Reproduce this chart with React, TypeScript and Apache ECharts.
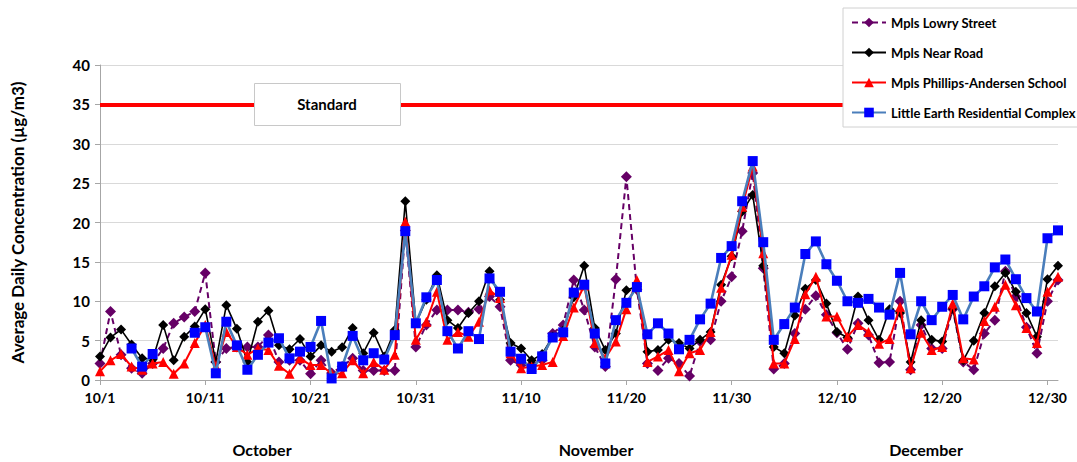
import React, { useEffect, useRef } from "react";
import * as echarts from "echarts";

// Day labels for Oct 1 – Dec 31
const MONTHS: [number, number][] = [
  [10, 31],
  [11, 30],
  [12, 31],
];
const dates: string[] = [];
MONTHS.forEach(([m, n]) => {
  for (let d = 1; d <= n; d++) dates.push(`${m}/${d}`);
});

const STANDARD = 35;

const lowry: (number | null)[] = [
  2.1, 8.7, 3.2, 1.5, 0.85, 2.1, 4.0, 7.2, 8.0, 8.7,
  13.6, 2.3, 4.0, 4.2, 4.2, 4.2, 5.7, 2.3, 2.5, 2.5,
  0.8, 2.5, 0.9, 1.7, 2.75, 1.2, 1.2, 1.2, 1.2, 19.0,
  4.2, 7.0, 8.9, 8.9, 8.9, 8.6, 9.0, 10.6, 9.3, 2.5,
  1.9, 2.0, 2.5, 5.9, 7.0, 12.7, 8.9, 4.2, 1.7, 12.8,
  25.8, 11.5, 2.1, 1.2, 2.75, 2.1, 0.5, 4.9, 5.1, 10.0,
  13.1, 18.9, 26.3, 14.2, 1.4, 2.1, 5.9, 9.0, 10.7, 8.3,
  6.0, 3.9, 7.2, 5.7, 2.2, 2.3, 10.0, 1.3, 7.0, 4.0,
  4.0, 9.0, 2.3, 1.3, 5.9, 7.6, 13.8, 10.6, 6.7, 3.4,
  10.0, 12.7,
];

const nearRoad: (number | null)[] = [
  3.0, 5.4, 6.4, 4.5, 2.75, 2.6, 7.0, 2.5, 5.5, 6.8,
  9.0, 2.3, 9.5, 6.5, 2.3, 7.4, 8.8, 4.4, 3.9, 5.2,
  3.0, 4.4, 3.6, 4.15, 6.6, 3.4, 6.0, 3.0, 6.35, 22.7,
  7.2, 10.2, 13.3, 7.6, 6.6, 8.5, 10.0, 13.8, 10.2, 4.7,
  4.0, 2.5, 3.3, 5.5, 6.3, 10.5, 14.5, 6.6, 3.8, 5.9,
  11.4, 11.9, 3.6, 3.8, 5.1, 4.7, 4.0, 5.1, 6.1, 12.1,
  15.7, 21.4, 23.5, 14.5, 4.2, 3.4, 8.2, 11.6, 12.7, 9.7,
  6.1, 5.4, 10.6, 7.6, 5.1, 9.0, 8.5, 2.3, 7.6, 5.1,
  4.9, 9.1, 2.5, 5.0, 8.5, 11.9, 13.6, 11.2, 8.5, 5.5,
  12.8, 14.5,
];

const phillips: (number | null)[] = [
  1.1, 2.5, 3.3, 1.7, 1.3, 2.1, 2.3, 0.8, 2.1, 4.7,
  7.0, 1.7, 6.1, 4.2, 3.2, 4.0, 3.8, 1.8, 0.8, 2.75,
  1.9, 1.9, 0.8, 0.85, 2.5, 0.85, 2.3, 1.3, 3.2, 20.1,
  5.1, 7.4, 11.2, 5.1, 6.1, 5.5, 7.4, 11.4, 10.4, 3.4,
  1.5, 1.7, 1.9, 2.3, 5.6, 9.2, 12.0, 4.7, 2.75, 4.9,
  9.0, 12.7, 2.3, 3.0, 3.8, 1.1, 3.4, 3.8, 6.1, 11.7,
  15.9, 22.0, 27.1, 16.1, 2.1, 2.1, 5.2, 10.9, 13.1, 8.05,
  8.05, 5.5, 7.0, 6.1, 4.6, 5.2, 9.3, 1.5, 6.0, 3.8,
  4.2, 9.7, 2.75, 2.6, 7.5, 9.3, 12.1, 9.5, 6.6, 4.7,
  11.2, 13.1,
];

const littleEarth: (number | null)[] = [
  null, null, null, 4.0, 1.7, 3.3, null, null, null, 6.0,
  6.7, 0.85, 7.4, 4.4, 1.3, 3.2, 4.75, 5.3, 2.75, 3.6,
  4.2, 7.5, 0.2, 1.7, 5.6, 2.5, 3.4, 2.6, 5.7, 18.9,
  7.2, 10.5, 12.7, 6.2, 4.0, 6.2, 5.2, 12.9, 11.2, 3.6,
  2.7, 1.4, 3.0, 5.4, 6.05, 11.1, 12.1, 5.9, 2.1, 7.6,
  9.8, 11.8, 5.8, 7.2, 5.9, 3.9, 5.1, 7.7, 9.7, 15.5,
  17.0, 22.7, 27.8, 17.5, 5.1, 7.1, 9.2, 16.0, 17.6, 14.7,
  12.6, 10.0, 9.8, 10.3, 9.2, 8.3, 13.6, 5.8, 10.0, 7.6,
  9.3, 10.8, 7.7, 10.6, 11.9, 14.3, 15.3, 12.8, 10.4, 8.7,
  18.0, 19.0,
];

const MONTH_LABELS = [
  { text: "October", x: 262 },
  { text: "November", x: 596 },
  { text: "December", x: 926 },
];

const FONT = "Lato, 'Open Sans', sans-serif";

export default function App() {
  const ref = useRef<HTMLDivElement>(null);

  useEffect(() => {
    if (!ref.current) return;
    const chart = echarts.init(ref.current, null, { renderer: "svg" });

    chart.setOption({
      animation: false,
      backgroundColor: "#fff",
      textStyle: { fontFamily: FONT },
      grid: { left: 100, right: 19, top: 65, bottom: 82, containLabel: false },
      legend: {
        orient: "vertical",
        left: 843,
        top: 8,
        itemGap: 17,
        itemWidth: 34,
        itemHeight: 12,
        padding: [8, 6, 8, 8],
        backgroundColor: "#fff",
        borderColor: "#d0d0d0",
        borderWidth: 1,
        textStyle: { fontFamily: FONT, fontWeight: "bold", fontSize: 13, color: "#000" },
        data: [
          "Mpls Lowry Street",
          "Mpls Near Road",
          "Mpls Phillips-Andersen School",
          "Little Earth Residential Complex",
        ],
        z: 20,
      },
      xAxis: {
        type: "category",
        data: dates,
        boundaryGap: false,
        axisLine: { lineStyle: { color: "#a6a6a6", width: 1 } },
        axisTick: { interval: 9, length: 5, lineStyle: { color: "#a6a6a6" } },
        axisLabel: {
          interval: 9,
          color: "#000",
          fontWeight: "bold",
          fontSize: 14,
          fontFamily: FONT,
          margin: 10,
        },
        splitLine: { show: false },
      },
      yAxis: {
        type: "value",
        min: 0,
        max: 40,
        interval: 5,
        name: "Average Daily Concentration (µg/m3)",
        nameLocation: "middle",
        nameGap: 74,
        nameTextStyle: { color: "#000", fontWeight: "bold", fontSize: 17, fontFamily: FONT },
        axisLine: { show: true, lineStyle: { color: "#a6a6a6" } },
        axisTick: { show: true, length: 5, lineStyle: { color: "#a6a6a6" } },
        axisLabel: { color: "#000", fontWeight: "bold", fontSize: 15, fontFamily: FONT, margin: 10 },
        splitLine: { lineStyle: { color: "#d9d9d9", width: 1 } },
      },
      series: [
        {
          name: "Mpls Lowry Street",
          type: "line",
          data: lowry,
          symbol: "diamond",
          symbolSize: 11,
          showAllSymbol: true,
          itemStyle: { color: "#660066" },
          lineStyle: { color: "#660066", width: 2, type: [6, 4] },
          z: 2,
          markLine: {
            silent: true,
            symbol: "none",
            label: { show: false },
            lineStyle: { color: "#ff0000", width: 4, type: "solid" },
            data: [{ yAxis: STANDARD }],
          },
        },
        {
          name: "Mpls Near Road",
          type: "line",
          data: nearRoad,
          symbol: "diamond",
          symbolSize: 10,
          showAllSymbol: true,
          itemStyle: { color: "#000" },
          lineStyle: { color: "#000", width: 1.6 },
          z: 3,
        },
        {
          name: "Mpls Phillips-Andersen School",
          type: "line",
          data: phillips,
          symbol: "triangle",
          symbolSize: 10,
          showAllSymbol: true,
          itemStyle: { color: "#ff0000" },
          lineStyle: { color: "#ff0000", width: 2 },
          z: 4,
        },
        {
          name: "Little Earth Residential Complex",
          type: "line",
          data: littleEarth,
          connectNulls: false,
          symbol: "rect",
          symbolSize: 10,
          showAllSymbol: true,
          itemStyle: { color: "#0000ff" },
          lineStyle: { color: "#4a7ebb", width: 2.6 },
          z: 5,
        },
      ],
      graphic: [
        {
          type: "rect",
          left: 254,
          top: 83,
          z: 60,
          zlevel: 1,
          shape: { x: 0, y: 0, width: 146, height: 42 },
          style: { fill: "#fff", stroke: "#c8c8c8", lineWidth: 1 },
        },
        {
          type: "text",
          x: 327,
          y: 104,
          z: 61,
          zlevel: 1,
          style: {
            text: "Standard",
            fill: "#000",
            font: `bold 15px ${FONT}`,
            textAlign: "center",
            textVerticalAlign: "middle",
          },
        },
        ...MONTH_LABELS.map((m) => ({
          type: "text",
          x: m.x,
          y: 449,
          z: 50,
          style: {
            text: m.text,
            fill: "#000",
            font: `bold 16px ${FONT}`,
            textAlign: "center",
            textVerticalAlign: "middle",
          },
        })),
      ],
    });

    return () => chart.dispose();
  }, []);

  return <div ref={ref} style={{ width: 1077, height: 462, position: "absolute", left: 0, top: 0 }} />;
}
